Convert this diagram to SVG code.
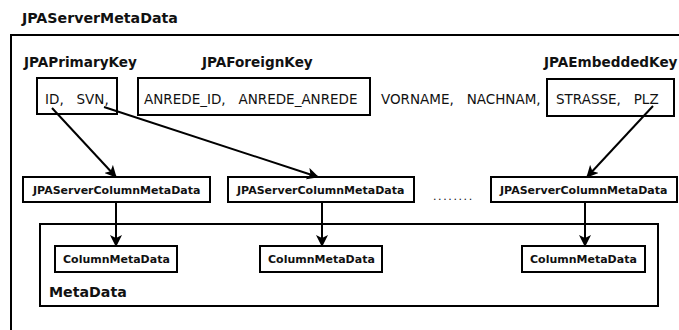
<svg xmlns="http://www.w3.org/2000/svg" width="679" height="330" viewBox="0 0 679 330">
  <style>
    .box { fill: #ffffff; stroke: #000000; stroke-width: 2; }
    .frame { fill: none; stroke: #000000; stroke-width: 2; }
    .title { font-family: "DejaVu Sans", sans-serif; font-weight: bold; font-size: 14.2px; fill: #111111; }
    .key { font-family: "DejaVu Sans", sans-serif; font-weight: bold; font-size: 13.6px; fill: #111111; }
    .field { font-family: "DejaVu Sans", sans-serif; font-size: 13.5px; fill: #111111; }
    .small { font-family: "DejaVu Sans", sans-serif; font-weight: bold; font-size: 11px; fill: #111111; }
    .dots { font-family: "DejaVu Sans", sans-serif; font-size: 11px; letter-spacing: 1.6px; fill: #111111; }
    .edge { stroke: #000000; stroke-width: 2; fill: none; marker-end: url(#arrow); }
  </style>
  <defs>
    <marker id="arrow" viewBox="0 0 12 12" refX="11" refY="6" markerWidth="12" markerHeight="12" markerUnits="userSpaceOnUse" orient="auto">
      <path d="M0,0 L12,6 L0,12 L3,6 z" fill="#000000"/>
    </marker>
  </defs>

  <rect width="679" height="330" fill="#ffffff"/>

  <!-- outer container -->
  <g id="server-meta-data">
    <text class="title" x="22" y="23">JPAServerMetaData</text>
    <rect class="frame" x="11" y="35" width="680" height="310"/>
  </g>

  <!-- key groups -->
  <g id="primary-key">
    <text class="key" x="24" y="67">JPAPrimaryKey</text>
    <rect class="box" x="37" y="78" width="80" height="36"/>
    <text class="field" x="45" y="104" xml:space="preserve">ID,   SVN,</text>
  </g>
  <g id="foreign-key">
    <text class="key" x="202" y="67">JPAForeignKey</text>
    <rect class="box" x="138" y="78" width="232" height="37"/>
    <text class="field" x="144" y="104" xml:space="preserve">ANREDE_ID,   ANREDE_ANREDE</text>
  </g>
  <g id="plain-fields">
    <text class="field" x="381" y="104" xml:space="preserve">VORNAME,   NACHNAM,</text>
  </g>
  <g id="embedded-key">
    <text class="key" x="544" y="67">JPAEmbeddedKey</text>
    <rect class="box" x="547" y="79" width="127" height="37"/>
    <text class="field" x="556" y="104" xml:space="preserve">STRASSE,   PLZ</text>
  </g>

  <!-- server column meta data -->
  <g id="server-column-1">
    <rect class="box" x="23" y="177" width="187" height="25"/>
    <text class="small" x="33" y="194">JPAServerColumnMetaData</text>
  </g>
  <g id="server-column-2">
    <rect class="box" x="228" y="177" width="186" height="25"/>
    <text class="small" x="237" y="194">JPAServerColumnMetaData</text>
  </g>
  <g id="ellipsis">
    <text class="dots" x="433" y="200">........</text>
  </g>
  <g id="server-column-3">
    <rect class="box" x="491" y="177" width="186" height="25"/>
    <text class="small" x="500" y="194">JPAServerColumnMetaData</text>
  </g>

  <!-- meta data container -->
  <g id="meta-data">
    <rect class="frame" x="40" y="224" width="618" height="82"/>
    <text class="title" x="49" y="297">MetaData</text>
  </g>
  <g id="column-1">
    <rect class="box" x="55" y="246" width="122" height="26"/>
    <text class="small" x="63" y="263">ColumnMetaData</text>
  </g>
  <g id="column-2">
    <rect class="box" x="260" y="246" width="122" height="26"/>
    <text class="small" x="268" y="263">ColumnMetaData</text>
  </g>
  <g id="column-3">
    <rect class="box" x="522" y="246" width="123" height="26"/>
    <text class="small" x="530" y="263">ColumnMetaData</text>
  </g>

  <!-- connectors -->
  <g id="connectors">
    <line class="edge" x1="52" y1="108" x2="116" y2="177"/>
    <line class="edge" x1="104" y1="107" x2="318" y2="177"/>
    <line class="edge" x1="653" y1="106" x2="587" y2="177"/>
    <line class="edge" x1="116" y1="202" x2="116" y2="246"/>
    <line class="edge" x1="322" y1="202" x2="322" y2="246"/>
    <line class="edge" x1="585" y1="202" x2="585" y2="246"/>
  </g>
</svg>
